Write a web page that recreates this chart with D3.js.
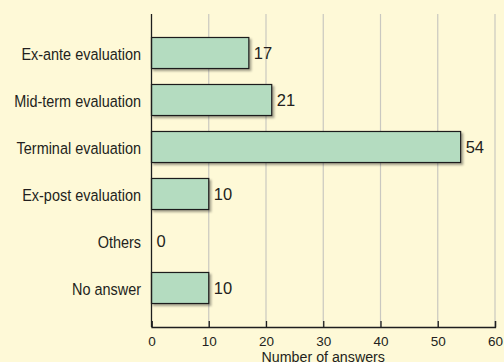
<!DOCTYPE html>
<html>
<head>
<meta charset="utf-8">
<script src="https://cdn.jsdelivr.net/npm/d3@7"></script>
<style>
  html, body { margin: 0; padding: 0; background: #fef9d7; }
  svg { display: block; }
  text { font-family: "Liberation Sans", Arial, sans-serif; fill: #231f20; }
</style>
</head>
<body>
<svg id="chart" width="504" height="362"></svg>
<script>
const categories = ["Ex-ante evaluation", "Mid-term evaluation", "Terminal evaluation", "Ex-post evaluation", "Others", "No answer"];
const answers = [17, 21, 54, 10, 0, 10];
const xTicks = [0, 10, 20, 30, 40, 50, 60];
const xTitle = "Number of answers";

const svg = d3.select("#chart");
const plotLeft = 151.5, plotRight = 495, plotTop = 14, plotBottom = 327;

const x = d3.scaleLinear().domain([0, 60]).range([plotLeft, plotRight]);
const y = d3.scaleBand().domain(categories).range([plotTop, plotBottom])
  .paddingInner(0.34).paddingOuter(0.5);

// soft shadow behind the bars
const defs = svg.append("defs");
const f = defs.append("filter").attr("id", "shadow")
  .attr("x", "-10%").attr("y", "-20%").attr("width", "130%").attr("height", "160%");
f.append("feDropShadow").attr("dx", 2).attr("dy", 2).attr("stdDeviation", 1.3)
  .attr("flood-color", "#000").attr("flood-opacity", 0.35);

// gridlines
svg.append("g").selectAll("line")
  .data(xTicks.filter(d => d > 0))
  .enter().append("line")
  .attr("x1", d => x(d)).attr("x2", d => x(d))
  .attr("y1", plotTop).attr("y2", plotBottom)
  .attr("stroke", "#c9c8c0").attr("stroke-width", 1.2);

const rows = categories.map((c, i) => ({ c, v: answers[i] }));

// bars
svg.append("g").selectAll("rect")
  .data(rows.filter(d => d.v > 0))
  .enter().append("rect")
  .attr("x", x(0))
  .attr("y", d => y(d.c))
  .attr("width", d => x(d.v) - x(0))
  .attr("height", y.bandwidth())
  .attr("fill", "#b4dcc0")
  .attr("stroke", "#1e1e1e")
  .attr("stroke-width", 1.2)
  .attr("filter", "url(#shadow)");

// value labels
svg.append("g").selectAll("text")
  .data(rows)
  .enter().append("text")
  .attr("x", d => x(d.v) + 5)
  .attr("y", d => y(d.c) + y.bandwidth() / 2)
  .attr("dy", "0.37em")
  .attr("font-size", 16.5)
  .text(d => d.v);

// bottom axis with inward ticks
const xAxis = svg.append("g").attr("transform", `translate(0,${plotBottom})`)
  .call(d3.axisBottom(x).tickValues(xTicks).tickSize(-6).tickPadding(9));
xAxis.select(".domain").attr("stroke", "#1e1e1e").attr("stroke-width", 1.3);
xAxis.selectAll(".tick line").attr("stroke", "#1e1e1e").attr("stroke-width", 1.3);
xAxis.selectAll(".tick text").attr("font-size", 13.5).attr("font-family", null).attr("fill", "#231f20");

// left axis, labels squeezed to look condensed
const yAxis = svg.append("g").attr("transform", `translate(${plotLeft},0)`)
  .call(d3.axisLeft(y).tickSize(0));
yAxis.select(".domain").attr("d", `M0,${plotTop}V${plotBottom}`).attr("stroke", "#1e1e1e").attr("stroke-width", 1.3);
yAxis.selectAll(".tick text")
  .attr("x", 0).attr("dy", "0.43em")
  .attr("transform", "translate(-10.5,0) scale(0.85,1)")
  .attr("font-size", 17).attr("font-family", null).attr("fill", "#231f20");

svg.append("text")
  .attr("transform", `translate(${(plotLeft + plotRight) / 2},362.3) scale(0.95,1)`)
  .attr("text-anchor", "middle")
  .attr("font-size", 15)
  .text(xTitle);
</script>
</body>
</html>
